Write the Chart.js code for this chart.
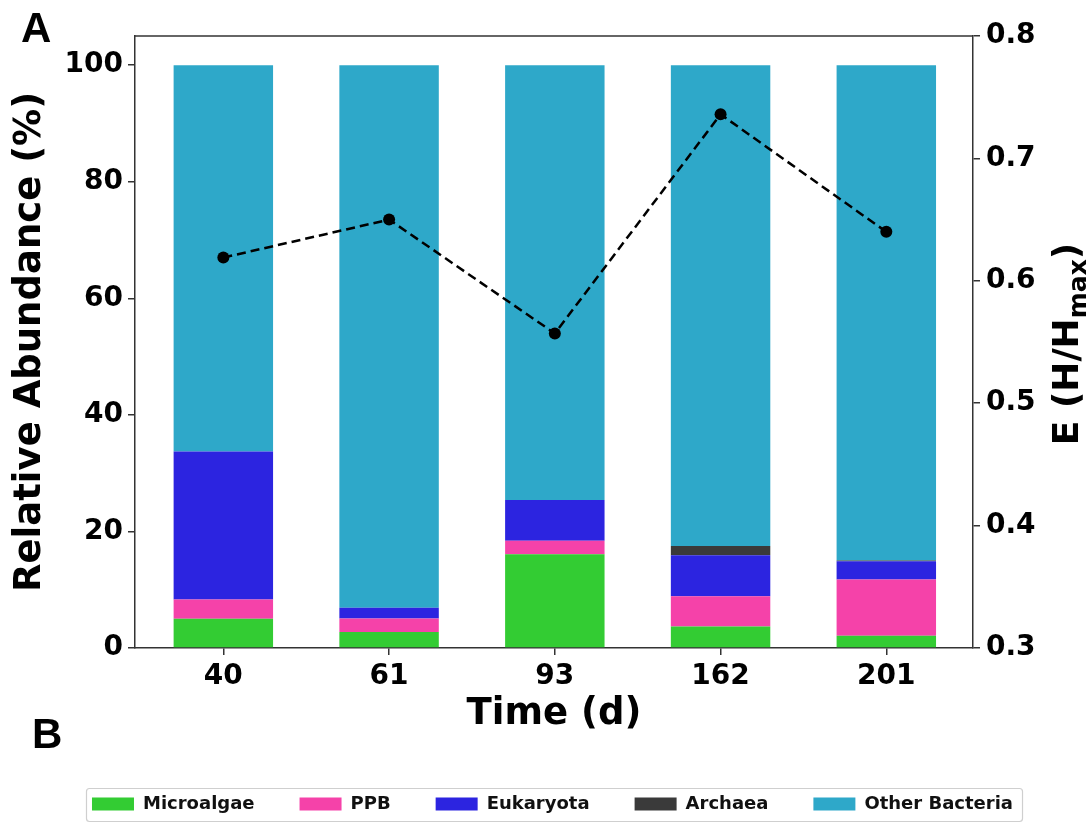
<!DOCTYPE html>
<html>
<head>
<meta charset="utf-8">
<script src="https://cdn.jsdelivr.net/npm/chart.js@4/dist/chart.umd.min.js"></script>
<style>
  html, body { margin: 0; padding: 0; background: #fff; }
  canvas { display: block; }
</style>
</head>
<body>
<canvas id="c" width="1089" height="823"></canvas>
<script>
// Sampling days
const days = ['40', '61', '93', '162', '201'];

// Relative abundance (%) of each group per sampling day
const microalgae    = [5.0, 2.75, 16.1, 3.7, 2.1];
const ppb           = [3.3, 2.3, 2.3, 5.2, 9.65];
const eukaryota     = [25.4, 1.85, 7.0, 7.0, 3.15];
const archaea       = [0, 0, 0, 1.6, 0.1];
const otherBacteria = [66.3, 93.1, 74.6, 82.5, 85.0];

// Evenness E = H/Hmax
const evenness = [0.619, 0.650, 0.557, 0.736, 0.640];

// Axis ticks
const abundanceTicks = [0, 20, 40, 60, 80, 100];
const evennessTicks = [0.3, 0.4, 0.5, 0.6, 0.7, 0.8];

const seriesNames  = ['Microalgae', 'PPB', 'Eukaryota', 'Archaea', 'Other Bacteria'];
const seriesValues = [microalgae, ppb, eukaryota, archaea, otherBacteria];
const seriesColors = ['#33cc33', '#f542a9', '#2c24e0', '#3a3a3a', '#2ea8c9'];

const toPoints = arr => arr.map((v, i) => ({ x: i, y: v }));

const barSets = seriesNames.map((name, k) => ({
  type: 'bar',
  label: name,
  data: toPoints(seriesValues[k]),
  backgroundColor: seriesColors[k],
  borderWidth: 0,
  yAxisID: 'y',
  stack: 'abundance',
  categoryPercentage: 1,
  barPercentage: 0.6,
  order: 2
}));

const lineSet = {
  type: 'line',
  label: 'E',
  data: toPoints(evenness),
  yAxisID: 'y2',
  borderColor: '#000',
  backgroundColor: '#000',
  borderWidth: 2.5,
  borderDash: [9, 5],
  pointRadius: 6,
  pointHoverRadius: 6,
  pointBackgroundColor: '#000',
  pointBorderWidth: 0,
  tension: 0,
  order: 1
};

const FRAME = '#333';
const LEGEND_SHIFT = 8;
const tickFont = { family: 'DejaVu Sans', size: 28, weight: 'bold' };
const titleFont = { family: 'DejaVu Sans', size: 37, weight: 'bold', lineHeight: 1.2 };

const decorations = {
  id: 'decorations',
  afterLayout(chart) {
    // nudge the legend row slightly to the right
    if (chart.legend) {
      chart.legend.left += LEGEND_SHIFT;
      chart.legend.right += LEGEND_SHIFT;
    }
  },
  afterDraw(chart) {
    const { ctx, chartArea: a } = chart;
    ctx.save();

    // top spine
    ctx.strokeStyle = FRAME;
    ctx.lineWidth = 1.5;
    ctx.beginPath();
    ctx.moveTo(a.left, a.top);
    ctx.lineTo(a.right, a.top);
    ctx.stroke();

    // panel letters
    ctx.fillStyle = '#000';
    ctx.font = 'bold 42px "Liberation Sans"';
    ctx.textAlign = 'left';
    ctx.textBaseline = 'alphabetic';
    ctx.fillText('A', 21, 42);
    ctx.fillText('B', 32, 748);

    // right axis title: E (H/Hmax) with subscript
    const fMain = 'bold 36px "DejaVu Sans"';
    const fSub = 'bold 25px "DejaVu Sans"';
    const partA = 'E (H/H', partB = 'max', partC = ')';
    ctx.font = fMain;
    const wA = ctx.measureText(partA).width;
    const wC = ctx.measureText(partC).width;
    ctx.font = fSub;
    const wB = ctx.measureText(partB).width;
    const total = wA + wB + wC;
    ctx.translate(1065, 344);
    ctx.rotate(-Math.PI / 2);
    let x = -total / 2;
    ctx.font = fMain;
    ctx.fillText(partA, x, 13);
    x += wA;
    ctx.font = fSub;
    ctx.fillText(partB, x, 21);
    x += wB;
    ctx.font = fMain;
    ctx.fillText(partC, x, 13);
    ctx.setTransform(1, 0, 0, 1, 0, 0);

    // legend frame
    const hb = chart.legend && chart.legend.legendHitBoxes;
    if (hb && hb.length) {
      const first = Math.min(...hb.map(h => h.left));
      const last = Math.max(...hb.map(h => h.left + h.width));
      const left = first - 6 + (hb[0].left === first ? 0 : 0);
      const right = last + 9;
      const midY = hb[0].top + hb[0].height / 2;
      const top = midY - 16, bottom = midY + 17;
      ctx.strokeStyle = '#cfcfcf';
      ctx.lineWidth = 1.2;
      ctx.beginPath();
      ctx.roundRect(left + 0.5, top + 0.5, right - left, bottom - top, 3);
      ctx.stroke();
    }
    ctx.restore();
  }
};

new Chart(document.getElementById('c'), {
  data: { datasets: [...barSets, lineSet] },
  options: {
    responsive: false,
    devicePixelRatio: 1,
    animation: false,
    layout: { padding: { top: 36, left: 0, right: 0, bottom: 0 } },
    plugins: {
      tooltip: { enabled: false },
      legend: {
        position: 'bottom',
        labels: {
          filter: item => item.datasetIndex < seriesNames.length,
          font: { family: 'DejaVu Sans', size: 18, weight: 'bold' },
          color: '#111',
          boxWidth: 42,
          boxHeight: 13,
          padding: 45
        }
      }
    },
    scales: {
      x: {
        type: 'linear',
        stacked: true,
        offset: false,
        min: -0.533,
        max: 4.523,
        afterBuildTicks: s => { s.ticks = days.map((d, i) => ({ value: i })); },
        afterFit: s => { s.height = s.chart.height - 648 - (s.chart.legend ? s.chart.legend.height : 72); },
        ticks: {
          callback: v => days[v],
          font: tickFont,
          color: '#000',
          padding: 5,
          maxRotation: 0,
          autoSkip: false
        },
        grid: { offset: false, drawOnChartArea: false, drawTicks: true, tickLength: 7, color: FRAME, lineWidth: 1.5 },
        border: { display: true, color: FRAME, width: 1.5 },
        title: {
          display: true,
          text: 'Time (d)',
          font: titleFont,
          color: '#000',
          padding: { top: 0, bottom: 13 }
        }
      },
      y: {
        type: 'linear',
        position: 'left',
        stacked: true,
        min: 0,
        max: 105,
        afterBuildTicks: s => { s.ticks = abundanceTicks.map(v => ({ value: v })); },
        afterFit: s => { s.width = 135; },
        ticks: { font: tickFont, color: '#000', padding: 5 },
        grid: { drawOnChartArea: false, drawTicks: true, tickLength: 7, color: FRAME, lineWidth: 1.5 },
        border: { display: true, color: FRAME, width: 1.5 },
        title: {
          display: true,
          text: 'Relative Abundance (%)',
          font: titleFont,
          color: '#000',
          padding: { top: 8, bottom: 0 }
        }
      },
      y2: {
        type: 'linear',
        position: 'right',
        min: 0.3,
        max: 0.8,
        afterBuildTicks: s => { s.ticks = evennessTicks.map(v => ({ value: v })); },
        afterFit: s => { s.width = 1089 - 973; },
        ticks: { font: tickFont, color: '#000', padding: 6, callback: v => v.toFixed(1) },
        grid: { drawOnChartArea: false, drawTicks: true, tickLength: 7, color: FRAME, lineWidth: 1.5 },
        border: { display: true, color: FRAME, width: 1.5 }
      }
    }
  },
  plugins: [decorations]
});
</script>
</body>
</html>
